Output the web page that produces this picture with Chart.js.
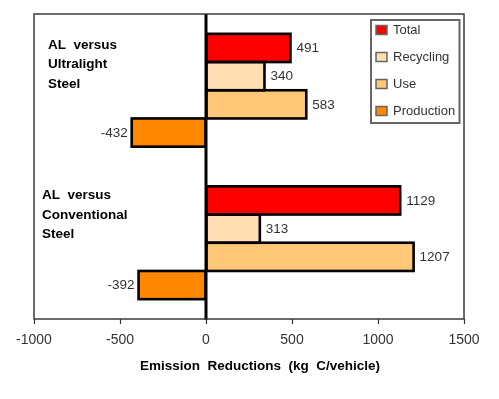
<!DOCTYPE html>
<html>
<head>
<meta charset="utf-8">
<script src="https://cdn.jsdelivr.net/npm/chart.js@4"></script>
<style>
  html, body { margin: 0; padding: 0; background: #ffffff; }
  #wrap { width: 499px; height: 399px; position: relative; }
</style>
</head>
<body>
<div id="wrap"><canvas id="c" width="499" height="399"></canvas></div>
<script>
// ---- data ----
const categories = [
  ['AL  versus', 'Ultralight', 'Steel'],
  ['AL  versus', 'Conventional', 'Steel']
];
const seriesNames = ['Total', 'Recycling', 'Use', 'Production'];
const total      = [491, 1129];
const recycling  = [340, 313];
const useVals    = [583, 1207];
const production = [-432, -392];
const xTickValues = [-1000, -500, 0, 500, 1000, 1500];
const axisTitle = 'Emission  Reductions  (kg  C/vehicle)';

// ---- styles ----
const seriesColors = ['#FF0000', '#FFDEB4', '#FFC878', '#FF8800'];
const REG = '"Liberation Sans", Arial, sans-serif';
const TEXT_GRAY = '#333333';

const seriesValues = [total, recycling, useVals, production];

const datasets = seriesNames.map((name, i) => ({
  label: name,
  data: seriesValues[i],
  backgroundColor: seriesColors[i],
  borderWidth: 0,
  categoryPercentage: 0.74,
  barPercentage: 1.0
}));

const customDraw = {
  id: 'customDraw',
  afterDatasetsDraw(chart) {
    const ctx = chart.ctx;
    const ca = chart.chartArea;
    const xs = chart.scales.x;
    const ys = chart.scales.y;

    // bar outlines (centered on edges, shared between adjacent bars)
    ctx.save();
    ctx.strokeStyle = '#000000';
    ctx.lineWidth = 2.6;
    chart.data.datasets.forEach((ds, di) => {
      const meta = chart.getDatasetMeta(di);
      meta.data.forEach(el => {
        const p = el.getProps(['x', 'y', 'base', 'height'], true);
        const left = Math.min(p.x, p.base), right = Math.max(p.x, p.base);
        ctx.strokeRect(left, p.y - p.height / 2, right - left, p.height);
      });
    });
    ctx.restore();

    // value labels
    ctx.save();
    ctx.font = '13.5px ' + REG;
    ctx.fillStyle = TEXT_GRAY;
    ctx.textBaseline = 'middle';
    chart.data.datasets.forEach((ds, di) => {
      const meta = chart.getDatasetMeta(di);
      meta.data.forEach((el, idx) => {
        const v = ds.data[idx];
        const p = el.getProps(['x', 'y'], true);
        if (v >= 0) {
          ctx.textAlign = 'left';
          ctx.fillText(String(v), p.x + 6, p.y + 0.5);
        } else {
          ctx.textAlign = 'right';
          ctx.fillText(String(v), p.x - 4, p.y + 0.5);
        }
      });
    });
    ctx.restore();

    // zero line
    const x0 = xs.getPixelForValue(0);
    ctx.save();
    ctx.strokeStyle = '#000000';
    ctx.lineWidth = 3;
    ctx.beginPath();
    ctx.moveTo(x0, ca.top);
    ctx.lineTo(x0, ca.bottom + 1);
    ctx.stroke();
    ctx.restore();

    // plot frame
    ctx.save();
    ctx.strokeStyle = '#3a3a3a';
    ctx.lineWidth = 1.5;
    ctx.strokeRect(ca.left, ca.top, ca.right - ca.left, ca.bottom - ca.top);
    ctx.restore();

    // category labels inside plot
    const xOff = [14, 8];
    const yOff = [-45, -47];
    ctx.save();
    ctx.font = 'bold 13.5px ' + REG;
    ctx.fillStyle = '#000000';
    ctx.textAlign = 'left';
    ctx.textBaseline = 'middle';
    categories.forEach((lines, i) => {
      const cy = ys.getPixelForValue(i);
      lines.forEach((ln, k) => {
        ctx.fillText(ln, ca.left + xOff[i], cy + yOff[i] + k * 19.3);
      });
    });
    ctx.restore();

    // legend with border
    const lx = ca.right - 93, ly = ca.top + 6, lw = 88.5, lh = 103;
    ctx.save();
    ctx.fillStyle = '#ffffff';
    ctx.fillRect(lx, ly, lw, lh);
    ctx.strokeStyle = '#666666';
    ctx.lineWidth = 2;
    ctx.strokeRect(lx, ly, lw, lh);
    ctx.font = '13px ' + REG;
    ctx.textAlign = 'left';
    ctx.textBaseline = 'middle';
    chart.data.datasets.forEach((ds, i) => {
      const iy = ly + 10 + i * 27;
      ctx.fillStyle = ds.backgroundColor;
      ctx.fillRect(lx + 5, iy - 4.5, 11, 9);
      ctx.strokeStyle = '#666666';
      ctx.lineWidth = 1.5;
      ctx.strokeRect(lx + 5, iy - 4.5, 11, 9);
      ctx.fillStyle = TEXT_GRAY;
      ctx.fillText(ds.label, lx + 22, iy + 0.5);
    });
    ctx.restore();

    // axis title
    ctx.save();
    ctx.font = 'bold 13.5px ' + REG;
    ctx.fillStyle = '#000000';
    ctx.textAlign = 'center';
    ctx.textBaseline = 'middle';
    ctx.fillText(axisTitle, (ca.left + ca.right) / 2 + 11, ca.bottom + 47);
    ctx.restore();
  }
};

new Chart(document.getElementById('c'), {
  type: 'bar',
  data: {
    labels: categories.map(l => l.join(' ')),
    datasets: datasets
  },
  options: {
    indexAxis: 'y',
    responsive: false,
    animation: false,
    devicePixelRatio: 1,
    layout: { padding: { left: 34, right: 35, top: 14, bottom: 0 } },
    plugins: {
      legend: { display: false },
      tooltip: { enabled: false },
      title: { display: false }
    },
    scales: {
      x: {
        type: 'linear',
        min: -1000,
        max: 1500,
        afterBuildTicks(scale) {
          scale.ticks = xTickValues.map(v => ({ value: v }));
        },
        afterFit(scale) { scale.height = 80; },
        border: { display: false },
        grid: {
          drawOnChartArea: false,
          drawTicks: true,
          tickLength: 5,
          tickColor: '#333333',
          tickWidth: 1.2
        },
        ticks: {
          color: TEXT_GRAY,
          font: { family: REG, size: 14 },
          padding: 8,
          maxRotation: 0,
          autoSkip: false,
          callback: (v) => String(v)
        }
      },
      y: {
        display: false,
        offset: true,
        grid: { display: false }
      }
    }
  },
  plugins: [customDraw]
});
</script>
</body>
</html>
